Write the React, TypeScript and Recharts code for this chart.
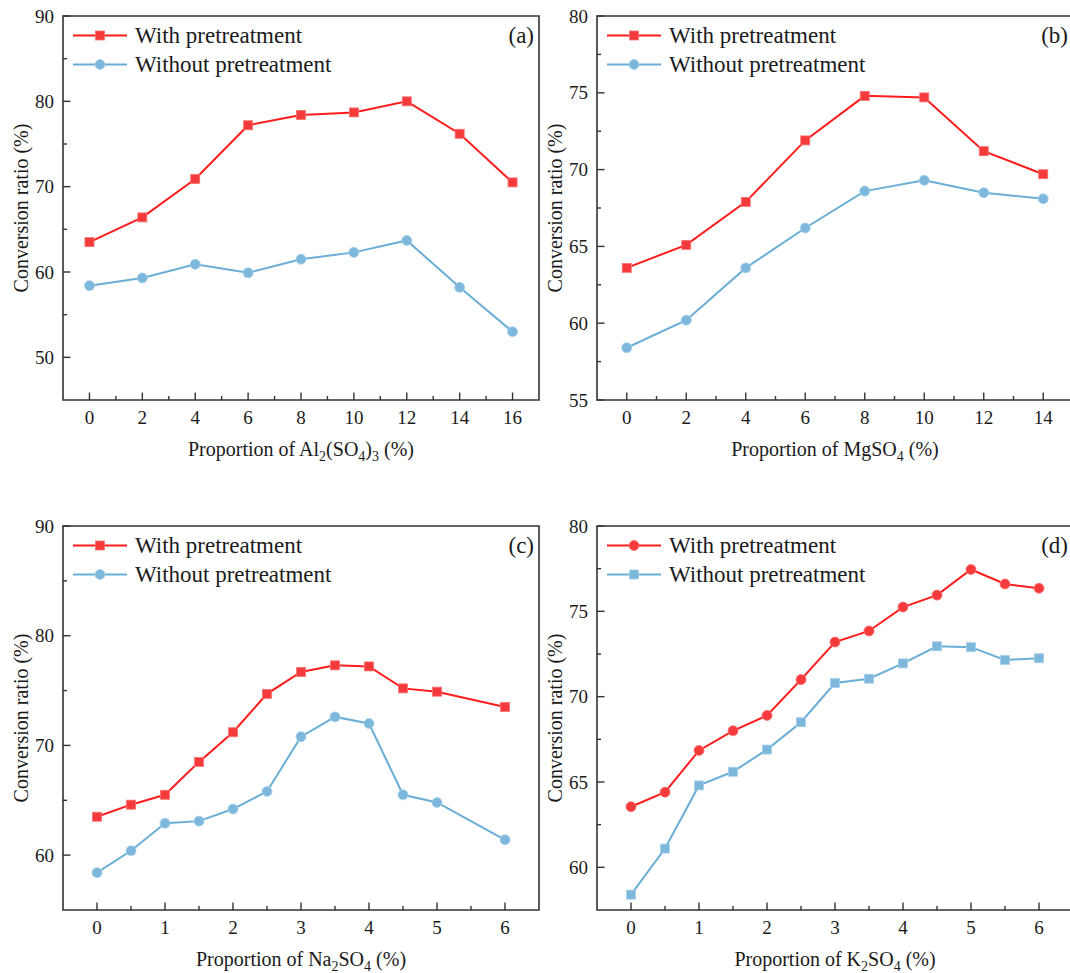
import React from 'react';
import { LineChart, Line, XAxis, YAxis, ReferenceArea, Legend, Label } from 'recharts';

const FONT = "'Liberation Serif', 'Times New Roman', Times, serif";
const INK = '#1a1a1a';
const FRAME = '#333333';
const RED = '#ff1c1c';
const RED_FILL = '#f43a3a';
const RED_EDGE = '#ff7070';
const BLUE = '#6aaed6';
const BLUE_FILL = '#7db7dc';
const BLUE_EDGE = '#a6d0ea';

// (a) Al2(SO4)3
const alDose = [0, 2, 4, 6, 8, 10, 12, 14, 16];
const alWith = [63.5, 66.4, 70.9, 77.2, 78.4, 78.7, 80.0, 76.2, 70.5];
const alWithout = [58.4, 59.3, 60.9, 59.9, 61.5, 62.3, 63.7, 58.2, 53.0];
const alXTicks = [0, 2, 4, 6, 8, 10, 12, 14, 16];
const alYTicks = [50, 60, 70, 80, 90];

// (b) MgSO4
const mgDose = [0, 2, 4, 6, 8, 10, 12, 14];
const mgWith = [63.6, 65.1, 67.9, 71.9, 74.8, 74.7, 71.2, 69.7];
const mgWithout = [58.4, 60.2, 63.6, 66.2, 68.6, 69.3, 68.5, 68.1];
const mgXTicks = [0, 2, 4, 6, 8, 10, 12, 14];
const mgYTicks = [55, 60, 65, 70, 75, 80];

// (c) Na2SO4
const naDose = [0, 0.5, 1, 1.5, 2, 2.5, 3, 3.5, 4, 4.5, 5, 6];
const naWith = [63.5, 64.6, 65.5, 68.5, 71.2, 74.7, 76.7, 77.3, 77.2, 75.2, 74.9, 73.5];
const naWithout = [58.4, 60.4, 62.9, 63.1, 64.2, 65.8, 70.8, 72.6, 72.0, 65.5, 64.8, 61.4];
const naXTicks = [0, 1, 2, 3, 4, 5, 6];
const naYTicks = [60, 70, 80, 90];

// (d) K2SO4
const kDose = [0, 0.5, 1, 1.5, 2, 2.5, 3, 3.5, 4, 4.5, 5, 5.5, 6];
const kWith = [63.55, 64.4, 66.85, 68.0, 68.9, 71.0, 73.2, 73.85, 75.25, 75.95, 77.45, 76.6, 76.35];
const kWithout = [58.4, 61.1, 64.8, 65.6, 66.9, 68.5, 70.8, 71.05, 71.95, 72.95, 72.9, 72.15, 72.25];
const kXTicks = [0, 1, 2, 3, 4, 5, 6];
const kYTicks = [60, 65, 70, 75, 80];

const seriesNames = ['With pretreatment', 'Without pretreatment'];

type Piece = [string, boolean];
type Shape = 'square' | 'circle';

const midpoints = (t: number[]) => t.slice(1).map((v, i) => (v + t[i]) / 2);

const squareDot = (fill: string, edge: string) => (p: any) => (
  <rect key={`sq-${p.index}`} x={p.cx - 4.5} y={p.cy - 4.5} width={9} height={9}
    fill={fill} stroke={edge} strokeWidth={0.8} />
);
const circleDot = (fill: string, edge: string) => (p: any) => (
  <circle key={`ci-${p.index}`} cx={p.cx} cy={p.cy} r={5} fill={fill} stroke={edge} strokeWidth={0.8} />
);

function Marker({ shape, fill, edge, cx, cy }: { shape: Shape; fill: string; edge: string; cx: number; cy: number }) {
  return shape === 'square'
    ? <rect x={cx - 4.5} y={cy - 4.5} width={9} height={9} fill={fill} stroke={edge} strokeWidth={0.8} />
    : <circle cx={cx} cy={cy} r={5} fill={fill} stroke={edge} strokeWidth={0.8} />;
}

// legend drawn as svg so it shares the serif font with the axes
function LegendBox({ shapes }: { shapes: [Shape, Shape] }) {
  const rows = [
    { name: seriesNames[0], color: RED, fill: RED_FILL, edge: RED_EDGE, shape: shapes[0] },
    { name: seriesNames[1], color: BLUE, fill: BLUE_FILL, edge: BLUE_EDGE, shape: shapes[1] },
  ];
  return (
    <svg width={300} height={58} style={{ display: 'block', overflow: 'visible' }}>
      {rows.map((r, i) => {
        const cy = 14.5 + i * 29;
        return (
          <g key={r.name}>
            <line x1={0} x2={54} y1={cy} y2={cy} stroke={r.color} strokeWidth={2} />
            <Marker shape={r.shape} fill={r.fill} edge={r.edge} cx={27} cy={cy} />
            <text x={62} y={cy + 7} fontFamily={FONT} fontSize={23} fill={INK}>{r.name}</text>
          </g>
        );
      })}
    </svg>
  );
}

interface PanelProps {
  left: number;
  top: number;
  letter: string;
  dose: number[];
  withVals: number[];
  withoutVals: number[];
  xTicks: number[];
  yTicks: number[];
  xDomain: [number, number];
  yDomain: [number, number];
  title: Piece[];
  shapes: [Shape, Shape];
}

function Panel(props: PanelProps) {
  const { left, top, letter, dose, withVals, withoutVals, xTicks, yTicks, xDomain, yDomain, title, shapes } = props;
  const data = dose.map((x, i) => ({ x, withP: withVals[i], withoutP: withoutVals[i] }));
  const xAll = [...xTicks, ...midpoints(xTicks)].sort((a, b) => a - b);
  const yAll = [...yTicks, ...midpoints(yTicks)].sort((a, b) => a - b);

  const xTick = (p: any) => {
    const major = xTicks.includes(p.payload.value);
    return (
      <g>
        <line x1={p.x} x2={p.x} y1={p.y} y2={p.y - (major ? 7.5 : 4)} stroke={FRAME} strokeWidth={1.4} />
        {major && (
          <text x={p.x} y={p.y + 24} textAnchor="middle" fontFamily={FONT} fontSize={19} fill={INK}>
            {p.payload.value}
          </text>
        )}
      </g>
    );
  };

  const yTick = (p: any) => {
    const major = yTicks.includes(p.payload.value);
    return (
      <g>
        <line x1={p.x} x2={p.x + (major ? 7.5 : 4)} y1={p.y} y2={p.y} stroke={FRAME} strokeWidth={1.4} />
        {major && (
          <text x={p.x - 9} y={p.y} dy="0.35em" textAnchor="end" fontFamily={FONT} fontSize={19} fill={INK}>
            {p.payload.value}
          </text>
        )}
      </g>
    );
  };

  const xTitle = (p: any) => {
    const vb = p.viewBox;
    return (
      <text x={vb.x + vb.width / 2} y={vb.y + 56} textAnchor="middle" fontFamily={FONT} fontSize={20} fill={INK}>
        {title.map(([t, sub], i) => {
          const prevSub = i > 0 && title[i - 1][1];
          const dy = sub ? (prevSub ? 0 : 5) : (prevSub ? -5 : 0);
          return (
            <tspan key={i} dy={dy} fontSize={sub ? 14 : 20}>{t}</tspan>
          );
        })}
      </text>
    );
  };

  const yTitle = (p: any) => {
    const vb = p.viewBox;
    const cx = vb.x + vb.width - 42;
    const cy = vb.y + vb.height / 2;
    return (
      <text x={cx} y={cy} dy="0.35em" transform={`rotate(-90, ${cx}, ${cy})`} textAnchor="middle"
        fontFamily={FONT} fontSize={20} fill={INK}>
        Conversion ratio (%)
      </text>
    );
  };

  const letterLabel = (p: any) => {
    const vb = p.viewBox;
    return (
      <text x={vb.x + vb.width - 5} y={vb.y + 27} textAnchor="end" fontFamily={FONT} fontSize={23} fill={INK}>
        {letter}
      </text>
    );
  };

  const dotFor = (shape: Shape, fill: string, edge: string) =>
    shape === 'square' ? squareDot(fill, edge) : circleDot(fill, edge);

  return (
    <div style={{ position: 'absolute', left, top }}>
      <LineChart width={545} height={470} data={data} margin={{ top: 16, right: 6, bottom: 40, left: 0 }}>
        <XAxis type="number" dataKey="x" domain={xDomain} ticks={xAll} interval={0} allowDataOverflow
          axisLine={false} tickLine={false} tickSize={0} tickMargin={0} tick={xTick} height={30}>
          <Label content={xTitle} />
        </XAxis>
        <YAxis type="number" domain={yDomain} ticks={yAll} interval={0} allowDataOverflow
          axisLine={false} tickLine={false} tickSize={0} tickMargin={0} tick={yTick} width={63}>
          <Label content={yTitle} />
        </YAxis>
        <ReferenceArea x1={xDomain[0]} x2={xDomain[1]} y1={yDomain[0]} y2={yDomain[1]} ifOverflow="visible"
          fill="none" fillOpacity={0} stroke={FRAME} strokeWidth={1.6} label={letterLabel} />
        <Line type="linear" dataKey="withP" stroke={RED} strokeWidth={2}
          dot={dotFor(shapes[0], RED_FILL, RED_EDGE)} activeDot={false} isAnimationActive={false} />
        <Line type="linear" dataKey="withoutP" stroke={BLUE} strokeWidth={2}
          dot={dotFor(shapes[1], BLUE_FILL, BLUE_EDGE)} activeDot={false} isAnimationActive={false} />
        <Legend layout="vertical" align="center" verticalAlign="middle"
          wrapperStyle={{ left: 73, top: 21, width: 'auto', height: 'auto' }}
          content={() => <LegendBox shapes={shapes} />} />
      </LineChart>
    </div>
  );
}

export default function App() {
  return (
    <div style={{ position: 'fixed', left: 0, top: 0, width: 1070, height: 973, overflow: 'hidden', background: '#fff' }}>
      <Panel left={0} top={0} letter="(a)" dose={alDose} withVals={alWith} withoutVals={alWithout}
        xTicks={alXTicks} yTicks={alYTicks} xDomain={[-1, 17]} yDomain={[45, 90]}
        title={[['Proportion of Al', false], ['2', true], ['(SO', false], ['4', true], [')', false], ['3', true], [' (%)', false]]}
        shapes={['square', 'circle']} />
      <Panel left={534} top={0} letter="(b)" dose={mgDose} withVals={mgWith} withoutVals={mgWithout}
        xTicks={mgXTicks} yTicks={mgYTicks} xDomain={[-1, 15]} yDomain={[55, 80]}
        title={[['Proportion of MgSO', false], ['4', true], [' (%)', false]]}
        shapes={['square', 'circle']} />
      <Panel left={0} top={509.5} letter="(c)" dose={naDose} withVals={naWith} withoutVals={naWithout}
        xTicks={naXTicks} yTicks={naYTicks} xDomain={[-0.5, 6.5]} yDomain={[55, 90]}
        title={[['Proportion of Na', false], ['2', true], ['SO', false], ['4', true], [' (%)', false]]}
        shapes={['square', 'circle']} />
      <Panel left={534} top={509.5} letter="(d)" dose={kDose} withVals={kWith} withoutVals={kWithout}
        xTicks={kXTicks} yTicks={kYTicks} xDomain={[-0.5, 6.5]} yDomain={[57.5, 80]}
        title={[['Proportion of K', false], ['2', true], ['SO', false], ['4', true], [' (%)', false]]}
        shapes={['circle', 'square']} />
    </div>
  );
}
